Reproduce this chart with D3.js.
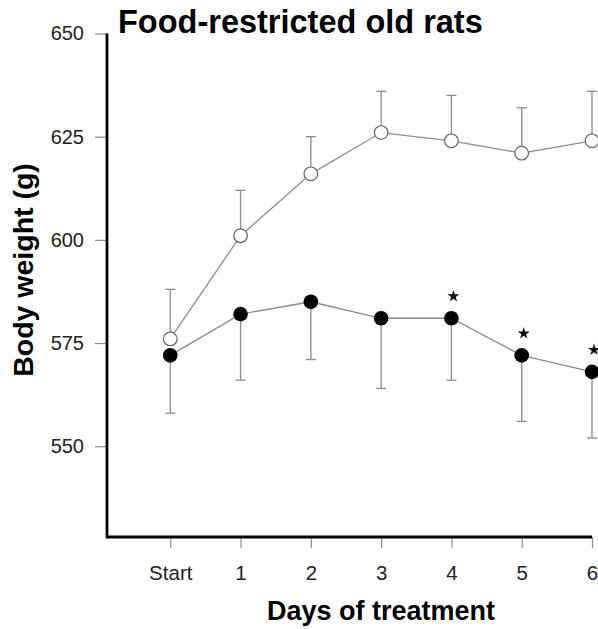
<!DOCTYPE html>
<html>
<head>
<meta charset="utf-8">
<script src="https://cdn.jsdelivr.net/npm/d3@7"></script>
<style>
  html, body { margin: 0; padding: 0; background: #fff; }
  svg { display: block; }
  text { font-family: "Liberation Sans", Arial, Helvetica, sans-serif; }
</style>
</head>
<body>
<div id="chart"></div>
<script>
// ---- data ----
const dayLabels = ["Start", "1", "2", "3", "4", "5", "6"];
const controlMeans = [576, 601, 616, 626, 624, 621, 624];      // open circles
const controlErr   = [12, 11, 9, 10, 11, 11, 12];              // upward error bars
const restrictedMeans = [572, 582, 585, 581, 581, 572, 568];   // filled circles
const restrictedErr   = [14, 16, 14, 17, 15, 16, 16];          // downward error bars
const significant = [false, false, false, false, true, true, true];
const yTicks = [550, 575, 600, 625, 650];

const titleText = "Food-restricted old rats";
const xTitle = "Days of treatment";
const yTitle = "Body weight (g)";

// ---- layout ----
const W = 598, H = 629;
const svg = d3.select("#chart").append("svg").attr("width", W).attr("height", H);

const x = d3.scaleLinear().domain([-0.9, 6]).range([107, 592]);
const y = d3.scaleLinear().domain([528, 650]).range([537, 33.5]);

const gray = "#8c8c8c";

// axes
const yAxis = d3.axisLeft(y).tickValues(yTicks).tickSize(12).tickPadding(11).tickSizeOuter(0);
const gy = svg.append("g").attr("transform", `translate(${x.range()[0]},0)`).call(yAxis);
gy.select(".domain").remove();
gy.selectAll(".tick line").attr("stroke", gray).attr("stroke-width", 1.2);
gy.selectAll(".tick text").attr("font-size", "20px").attr("fill", "#222");

const xAxis = d3.axisBottom(x).tickValues(d3.range(dayLabels.length))
  .tickFormat(i => dayLabels[i]).tickSize(11).tickPadding(17).tickSizeOuter(0);
const gx = svg.append("g").attr("transform", `translate(0,${y.range()[0]})`).call(xAxis);
gx.select(".domain").remove();
gx.selectAll(".tick line").attr("stroke", gray).attr("stroke-width", 1.2);
gx.selectAll(".tick text").attr("font-size", "20.5px").attr("fill", "#222");

// axis lines (L-shaped frame)
svg.append("path")
  .attr("d", `M${x.range()[0]},${y.range()[1]} V${y.range()[0]} H${x.range()[1]}`)
  .attr("fill", "none").attr("stroke", "#000").attr("stroke-width", 2.8);

// error bars
const capW = 5;
function errBars(means, errs, dir) {
  const g = svg.append("g");
  means.forEach((m, i) => {
    const end = m + dir * errs[i];
    g.append("line").attr("x1", x(i)).attr("x2", x(i)).attr("y1", y(m)).attr("y2", y(end))
      .attr("stroke", gray).attr("stroke-width", 1.3);
    g.append("line").attr("x1", x(i) - capW).attr("x2", x(i) + capW).attr("y1", y(end)).attr("y2", y(end))
      .attr("stroke", gray).attr("stroke-width", 1.3);
  });
}
errBars(controlMeans, controlErr, +1);
errBars(restrictedMeans, restrictedErr, -1);

// lines
const line = d3.line().x((d, i) => x(i)).y(d => y(d));
svg.append("path").attr("d", line(controlMeans)).attr("fill", "none").attr("stroke", gray).attr("stroke-width", 1.3);
svg.append("path").attr("d", line(restrictedMeans)).attr("fill", "none").attr("stroke", gray).attr("stroke-width", 1.3);

// markers
svg.append("g").selectAll("circle").data(controlMeans).join("circle")
  .attr("cx", (d, i) => x(i)).attr("cy", d => y(d)).attr("r", 6.8)
  .attr("fill", "#fff").attr("stroke", "#666").attr("stroke-width", 1.2);
svg.append("g").selectAll("circle").data(restrictedMeans).join("circle")
  .attr("cx", (d, i) => x(i)).attr("cy", d => y(d)).attr("r", 7.3)
  .attr("fill", "#000");

// significance stars
svg.append("g").selectAll("path").data(restrictedMeans.map((d, i) => ({d, i})).filter(o => significant[o.i]))
  .join("path")
  .attr("d", d3.symbol().type(d3.symbolStar).size(45))
  .attr("transform", o => `translate(${x(o.i) + 2},${y(o.d) - 22})`)
  .attr("fill", "#111");

// titles
svg.append("text").attr("x", 118).attr("y", 33).attr("font-size", "32.5px").attr("font-weight", "bold")
  .attr("fill", "#000").text(titleText);
svg.append("text").attr("x", 381).attr("y", 620).attr("text-anchor", "middle").attr("font-size", "27px")
  .attr("font-weight", "bold").attr("fill", "#000").text(xTitle);
svg.append("text").attr("transform", "translate(33,270) rotate(-90)").attr("text-anchor", "middle")
  .attr("font-size", "28.5px").attr("font-weight", "bold").attr("fill", "#000").text(yTitle);
</script>
</body>
</html>
